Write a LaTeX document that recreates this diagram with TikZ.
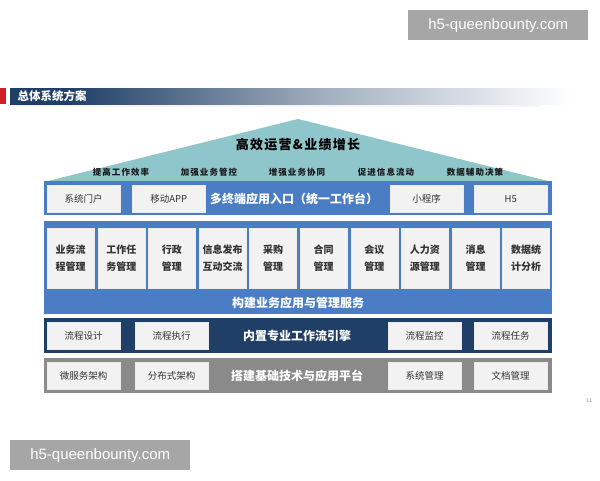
\documentclass[tikz,border=0pt]{standalone}
\usepackage{fontspec}
\setmainfont{Noto Sans CJK SC}
\newfontfamily\wmfont{Liberation Sans}
\definecolor{navy}{HTML}{1F3F66}
\definecolor{midc}{HTML}{A3B0BF}
\definecolor{bandblue}{HTML}{4A7DC4}
\definecolor{bandgray}{HTML}{8A8A8A}
\definecolor{roofc}{HTML}{8FC6CB}
\definecolor{boxc}{HTML}{F2F2F2}
\definecolor{txt}{HTML}{333333}
\definecolor{wm}{HTML}{A6A6A6}
\definecolor{redmark}{HTML}{D0202A}
\pgfdeclarehorizontalshading{titlebar}{100bp}{color(0bp)=(navy); color(30bp)=(navy); color(52bp)=(midc); color(73bp)=(white); color(100bp)=(white)}
\begin{document}
\begin{tikzpicture}[x=1pt,y=-1pt,
  box/.style={draw=white!85!gray, fill=boxc, inner sep=0pt, text=txt, anchor=north west,
    minimum width=73pt, minimum height=27pt, font=\fontsize{9.5}{11}\selectfont},
  sbox/.style={draw=white!85!gray, fill=boxc, inner sep=0pt, text=txt, anchor=north west,
    minimum width=47pt, minimum height=60pt, align=center,
    font=\fontsize{10}{17.5}\selectfont\bfseries},
  band/.style={anchor=north west, inner sep=0pt, minimum width=508pt},
  bandtext/.style={text=white, font=\fontsize{12}{14}\selectfont\bfseries},
  sub/.style={text=black!90, font=\fontsize{8.5}{10}\selectfont\bfseries\addfontfeature{LetterSpace=12}},
  wmark/.style={fill=wm, text=white, inner sep=0pt, anchor=north west,
    minimum width=180pt, minimum height=30pt, font=\wmfont\fontsize{15}{17}\selectfont}
]
\useasboundingbox (0,0) rectangle (600,480);
\fill[white] (0,0) rectangle (600,480);

% watermarks
\node[wmark] (wm1) at (408,10) {h5-queenbounty.com};
\node[wmark] (wm2) at (10,440) {h5-queenbounty.com};

% title bar
\fill[black!4] (12,104) rectangle (540,107);
\fill[redmark] (0,88) rectangle (6,104);
\shade[shading=titlebar] (10,88) rectangle (595,104);
\node[anchor=west, text=white, font=\fontsize{11.5}{13}\selectfont\bfseries] (title) at (14,96) {总体系统方案};

% roof
\fill[roofc] (298,119) -- (552,182) -- (44,182) -- cycle;
\node[font=\fontsize{13}{15}\selectfont\bfseries\addfontfeature{LetterSpace=10}] (roof) at (298,145) {高效运营\&业绩增长};
\node[sub] (s1) at (121,172) {提高工作效率};
\node[sub] (s2) at (209,172) {加强业务管控};
\node[sub] (s3) at (297,172) {增强业务协同};
\node[sub] (s4) at (386,172) {促进信息流动};
\node[sub] (s5) at (475,172) {数据辅助决策};

% row 1
\node[band, fill=bandblue, minimum height=34pt] (b1) at (44,181) {};
\node[box] (r1a) at (47,185) {系统门户};
\node[box] (r1b) at (132,185) {移动APP};
\node[bandtext] (r1t) at (294,199) {多终端应用入口（统一工作台）};
\node[box] (r1c) at (390,185) {小程序};
\node[box] (r1d) at (474,185) {H5};

% row 2
\node[band, fill=bandblue, minimum height=93pt] (b2) at (44,221) {};
\foreach \i/\t in {0/业务流\\程管理, 1/工作任\\务管理, 2/行政\\管理, 3/信息发布\\互动交流, 4/采购\\管理, 5/合同\\管理, 6/会议\\管理, 7/人力资\\源管理, 8/消息\\管理, 9/数据统\\计分析}{
  \node[sbox] (m\i) at ({47+50.6*\i},228) {\t};
}
\node[bandtext] (r2t) at (298,303) {构建业务应用与管理服务};

% row 3
\node[band, fill=navy, minimum height=35pt] (b3) at (44,318) {};
\node[box] (r3a) at (47,322) {流程设计};
\node[box] (r3b) at (135,322) {流程执行};
\node[bandtext] (r3t) at (297,336) {内置专业工作流引擎};
\node[box] (r3c) at (388,322) {流程监控};
\node[box] (r3d) at (474,322) {流程任务};

% row 4
\node[band, fill=bandgray, minimum height=35pt] (b4) at (44,358) {};
\node[box] (r4a) at (47,362) {微服务架构};
\node[box] (r4b) at (135,362) {分布式架构};
\node[bandtext] (r4t) at (297,376) {搭建基础技术与应用平台};
\node[box] (r4c) at (388,362) {系统管理};
\node[box] (r4d) at (474,362) {文档管理};

% page number
\node[text=gray, font=\fontsize{5}{6}\selectfont] (pg) at (589,401) {11};
\end{tikzpicture}
\end{document}
